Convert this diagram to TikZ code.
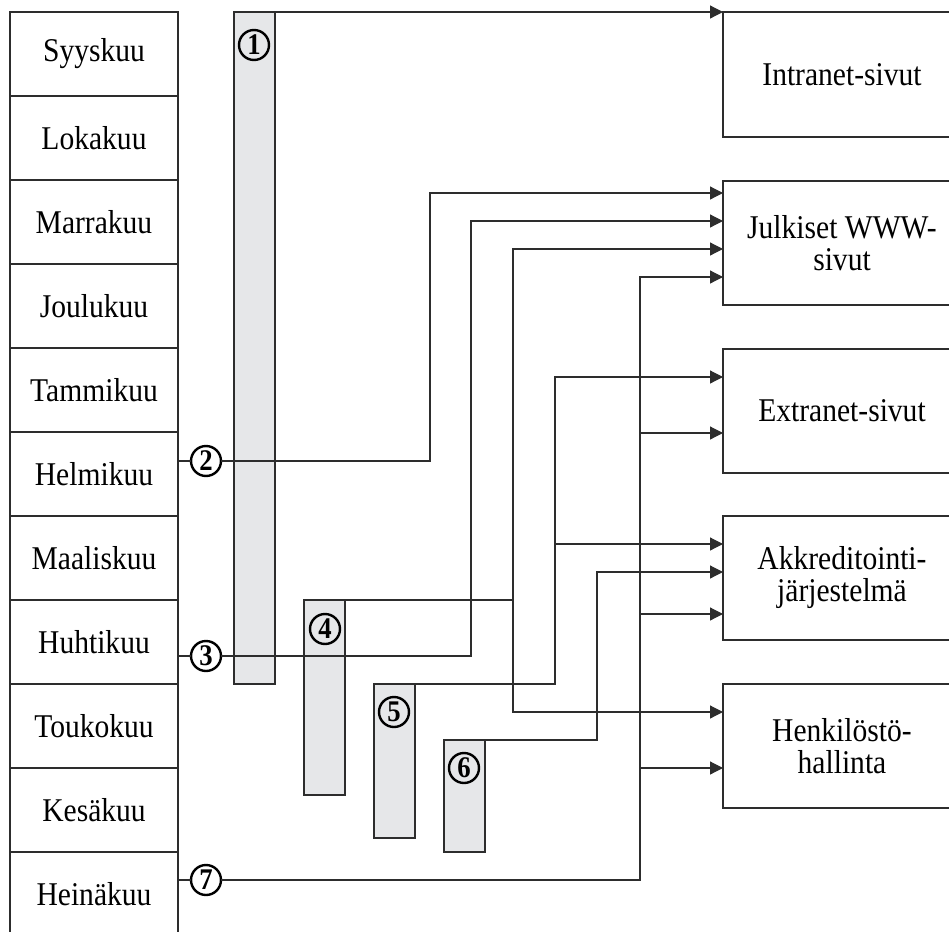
\documentclass[tikz,border=0pt]{standalone}
\usepackage{fontspec}
\setmainfont{Liberation Serif}[FakeStretch=0.89]
\usetikzlibrary{arrows.meta}
\definecolor{bargray}{RGB}{230,231,233}
\definecolor{linegray}{RGB}{45,45,45}

\begin{document}
\begin{tikzpicture}[x=0.5pt,y=-0.5pt,
  every node/.style={inner sep=0pt,outer sep=0pt},
  monthbox/.style={draw=linegray,line width=0.6pt,minimum width=84pt,minimum height=42pt,
    anchor=north west,font=\fontsize{16.6}{16}\selectfont},
  sitebox/.style={draw=linegray,line width=0.6pt,minimum width=119pt,minimum height=62pt,
    anchor=north west,align=center,font=\fontsize{16.6}{16}\selectfont},
  bar/.style={draw=linegray,fill=bargray,line width=0.6pt,minimum width=20.5pt,anchor=north west},
  num/.style={circle,draw=black,line width=1.2pt,minimum size=15pt,font=\fontsize{15}{15}\selectfont\bfseries},
  link/.style={draw=linegray,line width=0.6pt},
  arr/.style={link,-{Triangle[length=6.5pt,width=6.5pt]}}]
\useasboundingbox (0,0) rectangle (949,932);
\clip (0,0) rectangle (949,932);
% months
\foreach \m [count=\i] in {Syyskuu,Lokakuu,Marrakuu,Joulukuu,Tammikuu,Helmikuu,
    Maaliskuu,Huhtikuu,Toukokuu,Kesäkuu,Heinäkuu}
  \node[monthbox] (m\i) at (10,{12+84*(\i-1)}) {\m};
% web pages
\node[sitebox,minimum height=62.5pt] (intra) at (723,12) {Intranet-sivut};
\node[sitebox] (julk) at (723,181) {Julkiset WWW-\\sivut};
\node[sitebox] (ext) at (723,349) {Extranet-sivut};
\node[sitebox] (akk) at (723,516) {Akkreditointi-\\järjestelmä};
\node[sitebox] (henk) at (723,684) {Henkilöstö-\\hallinta};
% project bars
\node[bar,minimum height=336pt] (b1) at (234,12) {};
\node[bar,minimum height=97.5pt] (b4) at (304,600) {};
\node[bar,minimum height=77pt] (b5) at (374,684) {};
\node[bar,minimum height=56pt] (b6) at (444,740) {};
% numbers
\node[num] (c1) at (254,45) {1};
\node[num] (c2) at (206,461) {2};
\node[num] (c3) at (206,656) {3};
\node[num] (c4) at (325,629) {4};
\node[num] (c5) at (394,712) {5};
\node[num] (c6) at (464,768) {6};
\node[num] (c7) at (206,880) {7};
% links
\draw[arr] (b1.north east) -- (intra.north west);
\draw[link] (m6.east |- c2) -- (c2);
\draw[arr] (c2) -| (430,193) -- (430,193 -| julk.west);
\draw[link] (m8.east |- c3) -- (c3);
\draw[arr] (c3) -| (471,221) -- (471,221 -| julk.west);
\foreach \yy/\tg in {249/julk,712/henk}
  \draw[arr] (b4.north east) -| (513,\yy) -- (513,\yy -| \tg.west);
\foreach \yy/\tg in {377/ext,544/akk}
  \draw[arr] (b5.north east) -| (555,\yy) -- (555,\yy -| \tg.west);
\draw[arr] (b6.north east) -| (597,572) -- (597,572 -| akk.west);
\draw[link] (m11.east |- c7) -- (c7);
\foreach \yy/\tg in {277/julk,433/ext,614/akk,768/henk}
  \draw[arr] (c7) -| (640,\yy) -- (640,\yy -| \tg.west);
\end{tikzpicture}
\end{document}
